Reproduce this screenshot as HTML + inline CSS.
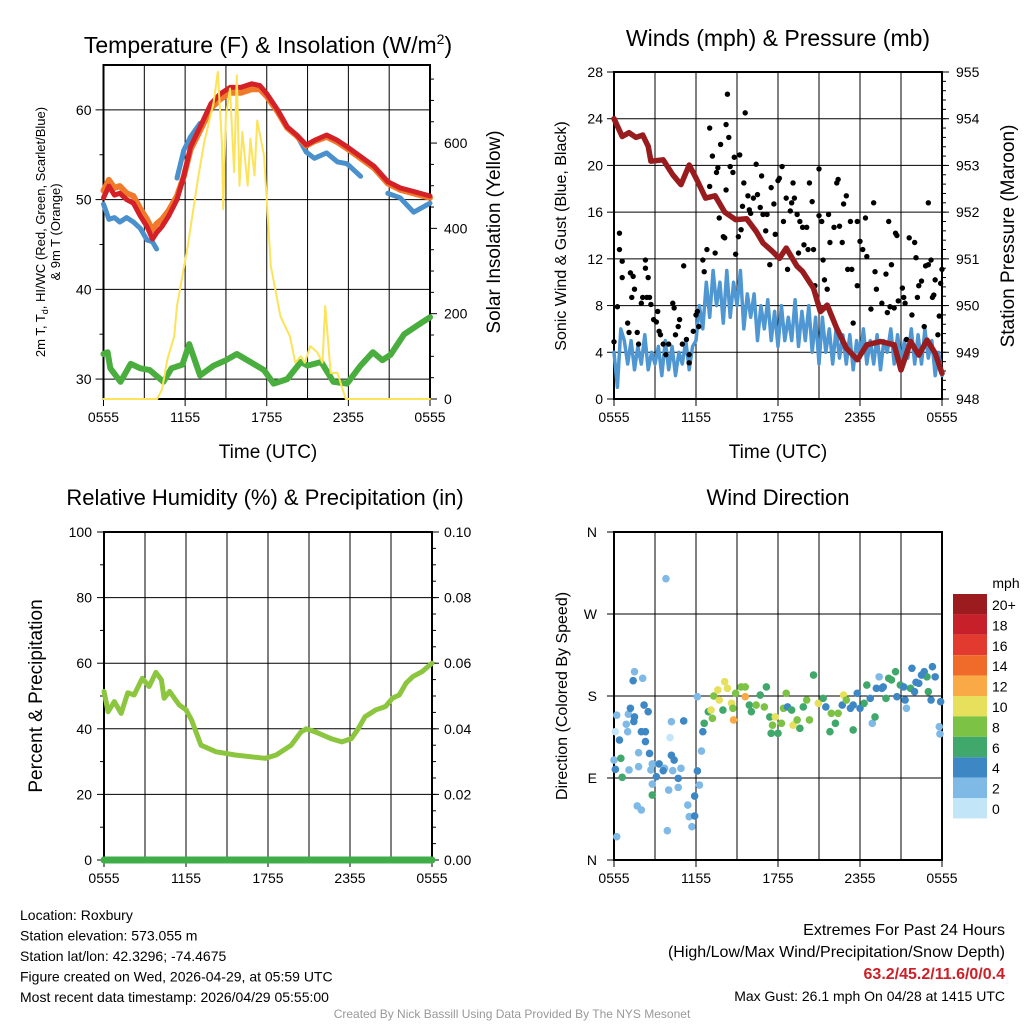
<!DOCTYPE html>
<html><head><meta charset="utf-8"><style>
html,body{margin:0;padding:0;background:#fff;}
svg text{font-family:"Liberation Sans",sans-serif;}
</style></head><body>
<svg id="c" width="1024" height="1024" viewBox="0 0 1024 1024" xmlns="http://www.w3.org/2000/svg"></svg>
<script>
// ---- data ----
var tempT=[0,0.4,0.8,1.2,1.7,2.2,2.7,3.2,3.6,3.9,4.3,4.8,5.4,5.9,6.4,7.1,7.9,8.6,9.3,10.1,10.9,11.5,12,12.8,13.5,14.2,14.9,15.5,16.4,17.2,17.9,18.9,19.9,20.9,21.8,22.8,24];
var tempRed=[50.2,51.5,50.5,50.7,50,49.6,48.2,47,45.6,46.3,47,48.2,50,52.6,55.9,58.1,60.7,61.8,62.5,62.5,62.9,62.7,61.8,60,58.1,57.2,56.1,56.6,57.2,56.6,55.9,54.8,53.7,52,51.3,50.9,50.4];
var tempOrange=[51,52.2,51.3,51.5,50.7,50.4,49,47.8,46.6,47.3,47.8,48.8,50.4,52.6,55.6,57.7,60.2,61.2,61.9,61.9,62.3,62.3,61.5,59.8,58,57.1,56,56.5,57,56.4,55.7,54.6,53.5,51.8,51.1,50.7,50.2];
var tempBlue=[49.5,47.8,48,47.5,48,47.5,46.8,45.5,45.3,44.5,null,null,52.4,55.5,57,58.5,null,null,null,null,null,null,null,null,null,57.2,55.3,54.6,55.2,54.2,54,52.6,null,50.7,50.2,48.6,49.6];
var tempGreen=[32.8,33,31.2,29.7,31.7,31.2,31,29.7,31.2,31.6,33.9,30.4,31.5,32.1,32.8,31.9,31,29.5,30,31.9,31.5,31.9,29.7,29.5,31.5,33,32.1,32.7,35,36.2,36.9];
var greenT=[0,0.3,0.5,1.25,2,2.7,3.4,4.4,5,5.8,6.3,7.1,8.1,9,9.8,10.8,11.8,12.5,13.5,14.5,15,16,16.9,17.9,18.9,19.8,20.5,21.1,22.1,23.3,24];
var solT=[0,3.95,4.3,4.7,5.2,5.4,6.2,6.9,7.4,8.1,8.4,8.7,8.8,9.0,9.3,9.6,9.8,10,10.2,10.6,10.8,11.1,11.3,11.8,12.3,13,13.7,14.1,14.5,14.8,15.2,15.7,16.1,16.3,16.7,17.2,17.8,24];
var solVal=[0,0,22,93,147,218,359,508,602,696,767,602,445,665,728,532,759,500,626,500,610,524,653,571,312,194,147,85,100,85,124,110,85,218,61,61,0,0];
var pT=[0,0.6,1.1,1.6,2.1,2.5,2.7,3.6,4.3,4.9,5.5,6,6.7,7.4,8.1,8.9,9.7,10.4,10.9,11.6,12.1,12.6,13.4,13.8,14.6,15.1,15.6,16.3,17,17.8,18.5,19.5,20.5,21,21.7,22.3,22.9,23.5,24];
var pVal=[954,953.62,953.7,953.6,953.65,953.41,953.09,953.12,952.8,952.59,953.01,952.73,952.3,952.35,952.0,951.84,951.86,951.59,951.34,951.16,951.01,951.23,950.84,950.73,950.37,949.87,950.01,949.51,949.09,948.84,949.16,949.23,949.16,948.62,949.23,948.94,949.26,948.98,948.55];
var windStep=0.25;
var windVal=[4,1,6,5, 3,5,2.5,4.5, 3,5.5,2.5,4, 3,4.5,2,5, 2.5,4.5,2,4, 3,5,2.5,4.5, 5,8,6,10, 7,11,8,10, 6.5,11,7,10, 8,11,6,9, 7,9,5,8, 6,8.5,5,7.5, 4.5,8,5,7, 5,8.5,4.5,7.5, 5,8,4,7, 3,7,4,6, 3,6,3.5,5.5, 3,5.5,2.5,5, 3.5,6,3,5, 3,5.5,2.5,5, 4,6,3,5.5, 3,5,3.5,6, 3,5.5,3,6, 3.5,5,2,4, 2];
var gustT=[0,0.25,0.4,0.4,0.6,0.6,1.0,1.1,1.2,1.4,1.3,1.5,1.7,1.8,2.0,2.1,2.3,2.3,2.4,2.5,2.6,2.7,2.9,3.1,3.2,3.3,3.4,3.6,3.8,4.0,4.3,4.4,4.5,4.7,4.8,5.0,5.1,5.3,5.5,5.5,5.8,6.0,6.1,6.2,6.5,6.6,6.8,7.0,7.0,7.2,7.4,7.5,7.6,7.7,7.8,8.0,8.1,8.2,8.2,8.3,8.4,8.5,8.7,8.8,8.9,9.1,9.2,9.3,9.4,9.5,9.6,9.8,9.9,10.0,10.2,10.4,10.5,10.7,10.8,10.9,11.1,11.2,11.4,11.5,11.7,11.8,12.0,12.1,12.3,12.4,12.6,12.7,12.9,13.0,13.1,13.2,13.4,13.5,13.6,13.8,13.9,14.1,14.2,14.3,14.5,14.6,14.7,15.0,15.0,15.2,15.3,15.4,15.6,15.7,15.8,16.1,16.3,16.4,16.5,16.7,16.8,17.0,17.1,17.3,17.4,17.5,17.8,17.8,18.0,18.2,18.4,18.5,18.8,19.0,19.1,19.2,19.6,19.9,20.0,20.1,20.2,20.3,20.5,20.6,20.7,20.8,21.1,21.2,21.3,21.4,21.6,21.8,22.0,22.1,22.2,22.3,22.5,22.7,22.8,23.0,23.0,23.2,23.3,23.4,23.5,23.7,23.8,23.9,24.0];
var gustVal=[4.9,7.9,14.2,12.8,11.8,10.4,6.5,5.7,10.8,10.5,8.7,9.4,5.7,4.7,8.2,8.7,11.2,11.9,8.7,10.4,8.7,8.1,6.8,6.6,7.5,5.8,5.5,4.7,3.8,4.7,8.2,7.8,5.5,6.2,6.8,4.7,11.4,5.1,3.8,3.1,5.8,7.2,7.5,6.2,11.9,10.9,12.8,18.2,23.2,20.8,12.5,19.4,19.8,15.5,21.8,13.9,13.8,23.5,17.9,26.1,22.4,19.9,19.4,20.7,12.4,13.9,20.9,14.5,16.5,18.5,24.5,17.4,16.2,15.9,17.2,20.1,17.5,16.4,19.1,15.8,14.4,15.8,11.5,18.1,16.7,14.1,18.7,18.9,19.9,15.2,17.2,11.1,16.1,16.8,18.5,17.2,15.8,12.5,15.2,14.7,13.2,14.7,12.8,18.5,16.9,12.8,9.7,15.7,19.7,15.2,11.9,10.2,9.4,15.8,13.4,14.7,18.5,18.8,14.8,13.4,16.7,17.4,11.1,15.2,11.1,6.5,9.7,15.2,13.5,12.8,15.5,12.2,7.7,16.8,10.9,9.4,8.2,10.7,7.4,15.2,7.9,11.5,7.8,14.2,14.0,8.4,9.5,8.7,8.2,5.1,13.8,7.2,13.4,12.1,8.7,9.7,10.1,6.2,11.4,11.5,16.8,11.9,8.7,8.9,10.2,5.5,7.1,9.9,11.1];
var rhT=[0,0.3,0.76,1.25,1.74,2.2,2.8,3.3,3.8,4.2,4.4,4.8,5.5,6,6.4,7.1,8.2,9.6,10.7,11.8,12.6,13.7,14.4,14.8,15.5,16.6,17.4,18.1,18.6,19.1,19.9,20.6,21.1,21.6,22.1,22.6,23.3,24];
var rhVal=[51.4,45.2,48.3,44.7,51,50.3,55.4,52.9,57.2,54.9,49.3,51.4,47.3,45.8,42.7,35,33,32,31.5,31,32,35,39,40,39,37,36,37,40,43.7,45.8,46.8,49.3,50.3,53.9,55.9,57.5,60];
var dirT=[0.2,0,0.1,0.6,0.5,0.4,0.2,0.1,1.0,0.9,1.05,1.2,1.5,1.45,1.5,1.4,2.1,2.2,2.5,2.0,2.3,2.3,1.1,1.8,1.8,2.6,2.8,3.3,3.1,2.7,2.8,2.8,1.7,2.0,3.8,3.7,3.6,4.0,3.9,4.2,4.1,4.2,4.4,4.3,4.7,4.7,4.9,5.1,5.4,5.5,5.7,5.9,5.9,6.1,6.25,6.4,6.1,6.5,6.6,6.9,7.1,7.2,7.3,7.6,7.7,7.97,8.1,8.3,8.6,8.7,8.75,8.9,9.3,9.6,9.6,9.9,10.05,10.4,10.7,11.0,11.15,11.4,11.5,11.6,11.8,12.0,12.25,12.4,12.6,12.7,13.0,13.1,13.4,13.6,13.85,14.1,14.3,14.6,14.95,15.3,15.5,15.8,15.9,16.2,16.4,16.7,16.8,17.0,17.3,17.5,17.8,18.0,18.3,18.5,18.75,18.9,19.1,19.2,19.4,19.6,19.9,20.1,20.3,20.6,20.7,20.95,21.3,21.4,21.7,21.8,21.99,22.3,22.7,22.9,23.0,23.2,23.3,23.5,23.8,23.85,23.9,21.2,19.7,17.5,22.1,22.5];
var dirVal=[25.6,109.7,99.5,90.7,111.6,131.7,159,140.8,140.8,149,160,166.5,157,152,206.7,196.8,199.4,170,162.8,140.8,140.8,130,98.8,117.8,102.4,117,105.4,105.4,91.5,98.8,83.4,71.3,59.3,54.9,308.8,100.6,98,76.8,32.2,151.8,134.3,114.9,109.7,98,89.6,79.7,100.6,152.6,60.3,47.5,36.6,70.2,48.3,97.7,82.3,119.6,179.3,140.8,150,162.8,164.6,155.5,180,186.6,175.6,164.6,195.7,188.4,172,166.5,153.7,183,190,190,179.3,170,162.8,170,181,168,190,157,139,148,157,139,150,166.5,183,168,164.6,148,153.7,144.5,168,175.6,153.7,203,172,177.4,168,140.8,161,150,161,170,181,175.6,166.5,142.7,183,166.5,172,192,177.4,150,157,188.4,201,188.4,177.4,199.4,197.6,206.7,179.3,192,175.6,166.5,188.4,210.4,184.8,193.9,206.7,201,184.8,175.6,212.2,201,146.3,138.3,173.8,190,190,170,195,203];
var dirSpd=[2,2,4,6,6,4,2,0,2,2,2,4,4,4,2,4,2,4,4,4,4,4,2,2,2,4,2,4,4,2,2,6,2,2,2,2,4,2,2,2,0,4,4,2,4,2,2,4,2,2,2,4,4,4,2,2,2,4,6,6,10,8,8,10,10,6,10,10,10,8,12,8,8,8,12,6,6,8,6,8,6,6,6,8,10,6,8,8,8,4,6,10,8,6,6,8,8,6,10,6,4,6,8,6,8,4,10,8,4,6,4,4,6,6,4,2,6,4,2,4,6,6,6,6,4,6,4,2,6,4,4,4,4,6,6,4,4,4,2,2,4,4,4,4,4,4];
var cbLabels=["20+","18","16","14","12","10","8","6","4","2","0"];
var cbColors=["#9b1b1e","#c7202a","#e23a2e","#f06b2a","#f9a946","#e6e05c","#7cc244","#3fa86a","#3e87c5","#7fb9e6","#c2e5f7"];
// ---- helpers ----
var S=document.getElementById('c'),NS='http://www.w3.org/2000/svg';
function mk(tag,at,parent){var e=document.createElementNS(NS,tag);for(var k in at)e.setAttribute(k,at[k]);(parent||S).appendChild(e);return e;}
function tx(s,x,y,sz,anc,extra){var e=mk('text',Object.assign({x:x,y:y,'font-size':sz,'text-anchor':anc||'middle',fill:'#000'},extra||{}));e.textContent=s;return e;}
function panel(L,R,T,B){return {L:L,R:R,T:T,B:B,x:function(h){return L+h*(R-L)/24;}};}
var P1=panel(103.5,430,65,399),P2=panel(614,942,72,399),P3=panel(104,432,532,860),P4=panel(614,942,532,860);
function yS(P,lo,hi){return function(v){return P.B-(v-lo)*(P.B-P.T)/(hi-lo);};}
function frame(P,name){var g=mk('g',{});
 for(var i=1;i<8;i++){var x=P.x(i*3);mk('line',{x1:x,x2:x,y1:P.T,y2:P.B,stroke:'#000','stroke-width':1},g);}
 mk('rect',{x:P.L,y:P.T,width:P.R-P.L,height:P.B-P.T,fill:'none',stroke:'#000','stroke-width':2},g);
 var labs=['0555','1155','1755','2355','0555'];
 for(var j=0;j<5;j++){var xx=P.x(j*6);mk('line',{x1:xx,x2:xx,y1:P.B,y2:P.B+7,stroke:'#000'},g);tx(labs[j],xx,P.B+23,14);}
 return g;}
function hgrid(P,y,g){mk('line',{x1:P.L,x2:P.R,y1:y,y2:y,stroke:'#000','stroke-width':1},g);}
function lpath(P,ts,vs,ys,col,w,name){var d='',pen=false;for(var i=0;i<ts.length;i++){if(vs[i]==null){pen=false;continue;}d+=(pen?'L':'M')+P.x(ts[i]).toFixed(1)+' '+ys(vs[i]).toFixed(1);pen=true;}
 var e=mk('path',{d:d,fill:'none',stroke:col,'stroke-width':w,'stroke-linejoin':'round','stroke-linecap':'round'});return e;}
// ---- Panel 1 ----
var g1=frame(P1,'temperature-panel');var yT=yS(P1,27.78,65),yR=yS(P1,0,783);
[30,40,50,60].forEach(function(v){hgrid(P1,yT(v),g1);mk('line',{x1:P1.L-8,x2:P1.L,y1:yT(v),y2:yT(v),stroke:'#000'});tx(v,P1.L-12,yT(v)+5,14,'end');});
[35,45,55].forEach(function(v){mk('line',{x1:P1.L-4,x2:P1.L,y1:yT(v),y2:yT(v),stroke:'#000'});});
[0,200,400,600].forEach(function(v){mk('line',{x1:P1.R,x2:P1.R+7,y1:yR(v),y2:yR(v),stroke:'#000'});tx(v,P1.R+14,yR(v)+5,14,'start');});
[50,100,150,250,300,350,450,500,550,650,700,750].forEach(function(v){mk('line',{x1:P1.R,x2:P1.R+4,y1:yR(v),y2:yR(v),stroke:'#000'});});
lpath(P1,greenT,tempGreen,yT,'#4aae3f',6,'dewpoint-line');
lpath(P1,tempT,tempBlue,yT,'#4a90cc',5,'windchill-line');
lpath(P1,tempT,tempOrange,yT,'#f07a2a',6,'temp-9m-line');
lpath(P1,tempT,tempRed,yT,'#d42027',5,'temp-2m-line');
lpath(P1,solT,solVal,yR,'#fce35a',2,'solar-insolation-line');
var t1=tx('',268,53,23);t1.innerHTML='Temperature (F) &amp; Insolation (W/m<tspan font-size="14" dy="-9">2</tspan><tspan dy="9">)</tspan>';
tx('Time (UTC)',268,458,19);
var yl=tx('',0,0,13,'middle',{transform:'translate(45,232) rotate(-90)'});yl.innerHTML='2m T, T<tspan font-size="9" dy="3">d</tspan><tspan dy="-3">, HI/WC (Red, Green, Scarlet/Blue)</tspan>';
tx('& 9m T (Orange)',0,0,13,'middle',{transform:'translate(60,232) rotate(-90)'});
tx('Solar Insolation (Yellow)',0,0,19,'middle',{transform:'translate(500,232) rotate(-90)'});
// ---- Panel 2 ----
var g2=frame(P2,'winds-panel');var yW=yS(P2,0,28),yP=yS(P2,948,955);
[0,4,8,12,16,20,24,28].forEach(function(v){if(v>0&&v<28)hgrid(P2,yW(v),g2);mk('line',{x1:P2.L-7,x2:P2.L,y1:yW(v),y2:yW(v),stroke:'#000'});tx(v,P2.L-11,yW(v)+5,14,'end');});
[948,949,950,951,952,953,954,955].forEach(function(v){mk('line',{x1:P2.R,x2:P2.R+7,y1:yP(v),y2:yP(v),stroke:'#000'});tx(v,P2.R+14,yP(v)+5,14,'start');});
for(var m=948.2;m<955;m+=0.2){mk('line',{x1:P2.R,x2:P2.R+4,y1:yP(m),y2:yP(m),stroke:'#000'});}
var wt=windVal.map(function(v,i){return i*windStep;});
lpath(P2,wt,windVal,yW,'#4f97d2',3.5,'sonic-wind-line');
gustVal.forEach(function(v,i){var c=mk('circle',{cx:P2.x(gustT[i]),cy:yW(v),r:2.7,fill:'#000'});});
lpath(P2,pT,pVal,yP,'#981b1e',5.5,'pressure-line');
tx('Winds (mph) & Pressure (mb)',778,46,23);
tx('Time (UTC)',778,458,19);
tx('Sonic Wind & Gust (Blue, Black)',0,0,16,'middle',{transform:'translate(566,236) rotate(-90)'});
tx('Station Pressure (Maroon)',0,0,19,'middle',{transform:'translate(1014,236) rotate(-90)'});
// ---- Panel 3 ----
var g3=frame(P3,'humidity-panel');var yH=yS(P3,0,100),yPr=yS(P3,0,0.1);
[0,20,40,60,80,100].forEach(function(v){if(v>0&&v<100)hgrid(P3,yH(v),g3);mk('line',{x1:P3.L-7,x2:P3.L,y1:yH(v),y2:yH(v),stroke:'#000'});tx(v,P3.L-12,yH(v)+5,14,'end');});
[10,30,50,70,90].forEach(function(v){mk('line',{x1:P3.L-4,x2:P3.L,y1:yH(v),y2:yH(v),stroke:'#000'});});
['0.00','0.02','0.04','0.06','0.08','0.10'].forEach(function(s){var v=parseFloat(s);mk('line',{x1:P3.R,x2:P3.R+7,y1:yPr(v),y2:yPr(v),stroke:'#000'});tx(s,P3.R+12,yPr(v)+5,14,'start');});
for(var q=0.005;q<0.1;q+=0.005){mk('line',{x1:P3.R,x2:P3.R+4,y1:yPr(q),y2:yPr(q),stroke:'#000'});}
lpath(P3,rhT,rhVal,yH,'#8cc63f',5,'humidity-line');
lpath(P3,[0,24],[0,0],yPr,'#3fae49',7,'precip-line');
tx('Relative Humidity (%) & Precipitation (in)',265,505,22);
tx('Percent & Precipitation',0,0,19,'middle',{transform:'translate(42,696) rotate(-90)'});
// ---- Panel 4 ----
var g4=frame(P4,'wind-direction-panel');var yD=yS(P4,0,360);
[['N',0],['E',90],['S',180],['W',270],['N',360]].forEach(function(a){if(a[1]>0&&a[1]<360)hgrid(P4,yD(a[1]),g4);mk('line',{x1:P4.L-7,x2:P4.L,y1:yD(a[1]),y2:yD(a[1]),stroke:'#000'});tx(a[0],P4.L-17,yD(a[1])+5,14,'end');});
function spdCol(s){var k=Math.min(10,Math.floor(s/2));return cbColors[10-k];}
dirVal.forEach(function(v,i){var c=mk('circle',{cx:P4.x(dirT[i]),cy:yD(v),r:3.8,fill:spdCol(dirSpd[i])});});
tx('Wind Direction',778,505,22);
tx('Direction (Colored By Speed)',0,0,16,'middle',{transform:'translate(567,696) rotate(-90)'});
var cb=mk('g',{});
tx('mph',1006,588,14);
cbColors.forEach(function(c,i){mk('rect',{x:953,y:594+i*20.4,width:34,height:20.4,fill:c},cb);tx(cbLabels[i],992,610+i*20.4,14,'start');});
// ---- footer ----
var info=['Location: Roxbury','Station elevation: 573.055 m','Station lat/lon: 42.3296; -74.4675','Figure created on Wed, 2026-04-29, at 05:59 UTC','Most recent data timestamp: 2026/04/29 05:55:00'];
info.forEach(function(s,i){tx(s,20,920+i*20.5,14,'start');});
tx('Extremes For Past 24 Hours',1005,935,16,'end');
tx('(High/Low/Max Wind/Precipitation/Snow Depth)',1005,957,16,'end');
tx('63.2/45.2/11.6/0/0.4',1005,979,16,'end',{fill:'#cc2028','font-weight':'bold'});
tx('Max Gust: 26.1 mph On 04/28 at 1415 UTC',1005,1001,14,'end');
tx('Created By Nick Bassill Using Data Provided By The NYS Mesonet',512,1018,12,'middle',{fill:'#999'});
</script>
</body></html>
